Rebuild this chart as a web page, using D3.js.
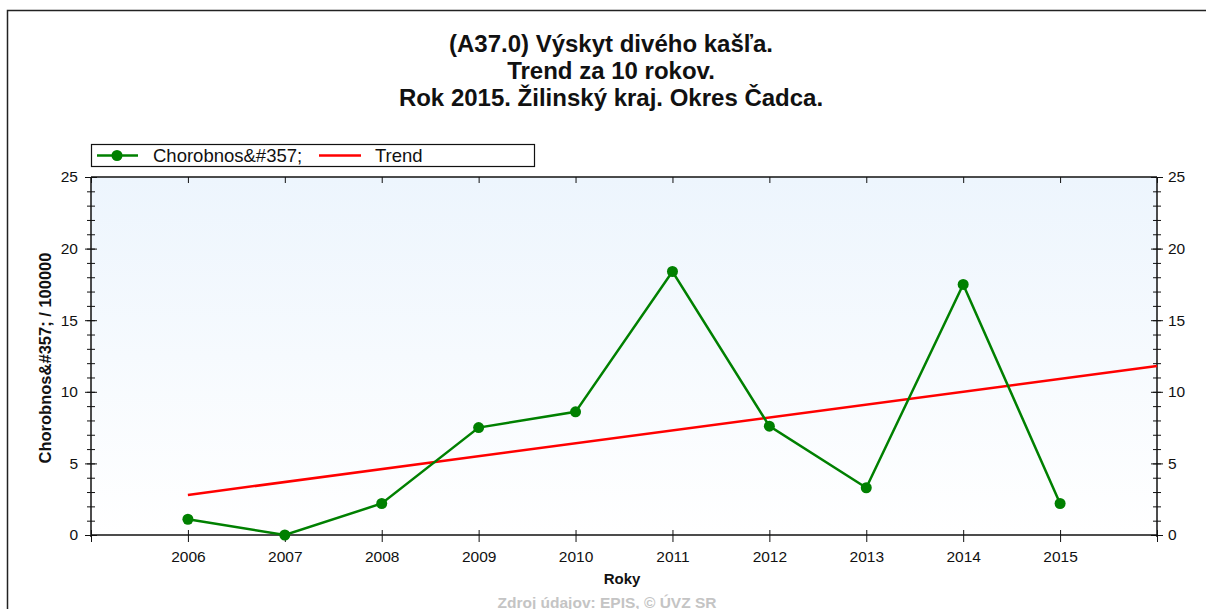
<!DOCTYPE html>
<html><head><meta charset="utf-8">
<script src="https://cdn.jsdelivr.net/npm/d3@7"></script>
<style>html,body{margin:0;padding:0;background:#fff}svg{display:block}text{font-family:"Liberation Sans",Arial,sans-serif}</style>
</head><body>
<svg id="c" width="1206" height="609"></svg>
<script>
const years = [2006,2007,2008,2009,2010,2011,2012,2013,2014,2015];
const rates = [1.1,0,2.2,7.5,8.6,18.4,7.6,3.3,17.5,2.2];
const trendYears = [2006,2016];
const trendValues = [2.8,11.8];
const yTicks = [0,5,10,15,20,25];
const titleLines = ["(A37.0) Výskyt divého kašľa.","Trend za 10 rokov.","Rok 2015. Žilinský kraj. Okres Čadca."];
const seriesName = "Chorobnos&#357;";
const trendName = "Trend";
const yLabel = "Chorobnos&#357; / 100000";
const xLabel = "Roky";
const source = "Zdroj údajov: EPIS, © ÚVZ SR";

const svg = d3.select("#c");
const L=91, R=1157, T=177, B=535;
const x = d3.scaleLinear().domain([2005,2016]).range([L,R]);
const y = d3.scaleLinear().domain([0,25]).range([B,T]);
const FS = 15.5;

// outer frame
svg.append("rect").attr("x",7.5).attr("y",10.5).attr("width",1250).attr("height",700)
  .attr("fill","none").attr("stroke","#222").attr("stroke-width",1.5);

// gradient
const defs = svg.append("defs");
const g = defs.append("linearGradient").attr("id","bg").attr("x1",0).attr("y1",0).attr("x2",0).attr("y2",1);
g.append("stop").attr("offset","0%").attr("stop-color","#edf5fd");
g.append("stop").attr("offset","100%").attr("stop-color","#ffffff");
svg.append("rect").attr("x",L).attr("y",T).attr("width",R-L).attr("height",B-T).attr("fill","url(#bg)");

// title
svg.append("g").selectAll("text").data(titleLines).join("text")
  .attr("x",611).attr("y",(d,i)=>52+i*27).attr("text-anchor","middle")
  .attr("font-size",24).attr("font-weight","bold").attr("fill","#111").text(d=>d);

// axes
const minor = d3.range(0,26,1);
const ax = svg.append("g").attr("stroke","#111").attr("fill","none");
// left axis
svg.append("g").attr("transform",`translate(${L},0)`)
  .call(d3.axisLeft(y).tickValues(minor).tickSize(4).tickFormat(""))
  .call(s=>{s.select(".domain").remove();s.selectAll("line").attr("x2",-4).attr("x1",4).attr("stroke","#111");});
svg.append("g").attr("transform",`translate(${L},0)`)
  .call(d3.axisLeft(y).tickValues(yTicks).tickSize(6).tickPadding(5))
  .call(s=>{s.select(".domain").remove();s.selectAll("line").attr("x2",-6).attr("x1",6).attr("stroke","#111");
    s.selectAll("text").attr("font-size",FS).attr("fill","#111").attr("font-family","Liberation Sans, Arial").attr("x",-13);});
// right axis
svg.append("g").attr("transform",`translate(${R},0)`)
  .call(d3.axisRight(y).tickValues(minor).tickSize(4).tickFormat(""))
  .call(s=>{s.select(".domain").remove();s.selectAll("line").attr("x1",-4).attr("x2",4).attr("stroke","#111");});
svg.append("g").attr("transform",`translate(${R},0)`)
  .call(d3.axisRight(y).tickValues(yTicks).tickSize(6).tickPadding(5))
  .call(s=>{s.select(".domain").remove();s.selectAll("line").attr("x1",-6).attr("x2",6).attr("stroke","#111");
    s.selectAll("text").attr("font-size",FS).attr("fill","#111").attr("font-family","Liberation Sans, Arial").attr("x",11);});
// bottom axis
const xt = d3.range(2005,2017);
svg.append("g").attr("transform",`translate(0,${B})`)
  .call(d3.axisBottom(x).tickValues(xt).tickSize(6).tickPadding(10).tickFormat(d=>years.includes(d)?d:""))
  .call(s=>{s.select(".domain").remove();s.selectAll("line").attr("y1",-5).attr("y2",7).attr("stroke","#111");
    s.selectAll("text").attr("font-size",FS).attr("fill","#111").attr("font-family","Liberation Sans, Arial").attr("y",16);});
// top axis
svg.append("g").attr("transform",`translate(0,${T})`)
  .call(d3.axisBottom(x).tickValues(xt).tickSize(6).tickFormat(""))
  .call(s=>{s.select(".domain").remove();s.selectAll("line").attr("stroke","#111");});
// frame lines of plot
ax.append("line").attr("x1",L).attr("x2",R).attr("y1",B).attr("y2",B).attr("stroke-width",1.5);
ax.append("line").attr("x1",L).attr("x2",R).attr("y1",T).attr("y2",T).attr("stroke-width",1.5);
ax.append("line").attr("x1",L).attr("x2",L).attr("y1",T).attr("y2",B+2).attr("stroke-width",1.5);
ax.append("line").attr("x1",R).attr("x2",R).attr("y1",T).attr("y2",B+2).attr("stroke-width",1.5);

// trend line
svg.append("path").datum(trendYears.map((d,i)=>[d,trendValues[i]]))
  .attr("d",d3.line().x(d=>x(d[0])).y(d=>y(d[1])))
  .attr("fill","none").attr("stroke","#ff0000").attr("stroke-width",2.5);

// series line
svg.append("path").datum(years.map((d,i)=>[d,rates[i]]))
  .attr("d",d3.line().x(d=>x(d[0])).y(d=>y(d[1])))
  .attr("fill","none").attr("stroke","#008000").attr("stroke-width",2.5);
svg.append("g").selectAll("circle").data(years.map((d,i)=>[d,rates[i]])).join("circle")
  .attr("cx",d=>x(d[0])).attr("cy",d=>y(d[1])).attr("r",5.5).attr("fill","#008000");

// legend
const lg = svg.append("g");
lg.append("rect").attr("x",91.5).attr("y",144.5).attr("width",443).attr("height",22).attr("fill","#fff").attr("stroke","#111").attr("stroke-width",1.2);
lg.append("line").attr("x1",97).attr("x2",138).attr("y1",155.5).attr("y2",155.5).attr("stroke","#008000").attr("stroke-width",2.5);
lg.append("circle").attr("cx",117).attr("cy",155.5).attr("r",5.5).attr("fill","#008000");
lg.append("text").attr("x",153).attr("y",161.5).attr("font-size",18.5).attr("fill","#111").text(seriesName);
lg.append("line").attr("x1",319).attr("x2",361).attr("y1",155.5).attr("y2",155.5).attr("stroke","#ff0000").attr("stroke-width",2.5);
lg.append("text").attr("x",375).attr("y",161.5).attr("font-size",18.5).attr("fill","#111").text(trendName);

// axis labels
svg.append("text").attr("transform","translate(51,358) rotate(-90)").attr("text-anchor","middle")
  .attr("font-size",16.5).attr("font-weight","bold").attr("fill","#111").text(yLabel);
svg.append("text").attr("x",622).attr("y",584).attr("text-anchor","middle")
  .attr("font-size",15).attr("font-weight","bold").attr("fill","#111").text(xLabel);
svg.append("text").attr("x",607).attr("y",608).attr("text-anchor","middle")
  .attr("font-size",15.5).attr("font-weight","bold").attr("fill","#c4c4c4").text(source);
</script>
</body></html>
